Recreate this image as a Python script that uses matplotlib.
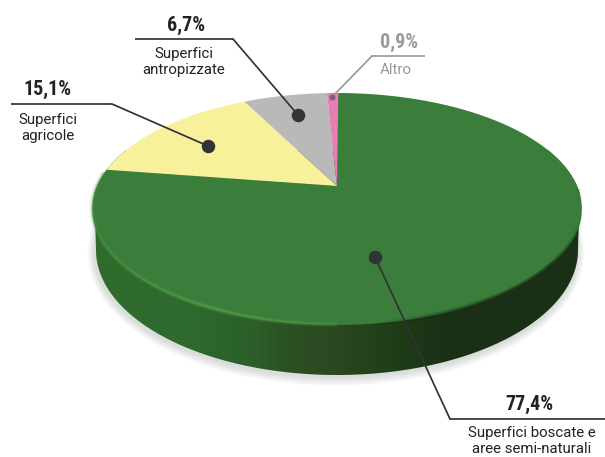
import numpy as np
import matplotlib
matplotlib.use('Agg')
import matplotlib.pyplot as plt
from matplotlib.colors import LinearSegmentedColormap, to_rgb
from matplotlib.collections import LineCollection
from matplotlib.patches import Polygon

# Slices, clockwise from 12 o'clock
categories = ['Superfici boscate e\naree semi-naturali', 'Superfici\nagricole', 'Superfici\nantropizzate', 'Altro']
values = [77.4, 15.1, 6.7, 0.9]
value_labels = ['77,4%', '15,1%', '6,7%', '0,9%']
colors = ['#3b7d3b', '#f7f19c', '#b9b9b9', '#e77fb4']

# Pie geometry in pixels, the disc is seen in perspective
cx, cy = 337.0, 186.0
R, S, k = 240.0, 111.4, 0.198

# Side wall of the disc
wall_x = [0.0, 0.20, 0.33, 0.40, 0.50, 0.62, 0.72, 1.0]
wall_colors = ['#2e6c2e', '#2e6a2d', '#2b5e2a', '#2c5024', '#2b4820', '#1f3d18', '#1a3016', '#1a3016']

W, H = 605, 457
fig = plt.figure(figsize=(W / 100, H / 100), dpi=100)
ax = fig.add_axes([0, 0, 1, 1])
ax.set_xlim(0, W)
ax.set_ylim(H, 0)
ax.axis('off')


# Point of the disc for an angle in percent, clockwise from the top
def disc(p, dy=0.0):
    t = np.asarray(p) * 2 * np.pi / 100
    u, v = np.sin(t), np.cos(t)
    d = 1 + k * v
    return cx + R * u / d, cy - S * v / d + dy


# Stroke along the disc edge whose opacity follows x
def edge_stroke(p0, p1, dy, col, width, alpha_fn):
    ex, ey = disc(np.linspace(p0, p1, 300), dy)
    pts = np.c_[ex, ey]
    segs = np.stack([pts[:-1], pts[1:]], axis=1)
    mid = (ex[:-1] + ex[1:]) / 2
    cols = np.zeros((len(mid), 4))
    cols[:, :3] = to_rgb(col)
    cols[:, 3] = np.clip(alpha_fn(mid), 0, 1)
    ax.add_collection(LineCollection(segs, colors=cols, linewidths=width, zorder=4, capstyle='butt'))


# Soft shadow under the disc
tt = np.linspace(0, 2 * np.pi, 300)
for g in range(8):
    sx = 336 + (242 + g * 0.9) * np.cos(tt)
    sy = 253 + (125 + g * 1.1) * np.sin(tt)
    ax.fill(sx, sy, color='#a8b0aa', alpha=0.06, lw=0, zorder=1)

# Wall: front half of the lower ellipse joined to the back half of the top one
front = np.linspace(0, np.pi, 200)
low_x = 337 + 241 * np.cos(front)
low_y = 250 + 125 * np.sin(front)
top_x, top_y = disc(np.linspace(74, 126, 200))
wall_poly = Polygon(np.r_[np.c_[low_x, low_y], np.c_[top_x, top_y]], closed=True, fc='none', ec='none', zorder=2)
ax.add_patch(wall_poly)
cmap = LinearSegmentedColormap.from_list('wall', list(zip(wall_x, wall_colors)))
grad = np.linspace(0, 1, 400)[None, :]
im = ax.imshow(grad, extent=[92, 582, 380, 150], cmap=cmap, aspect='auto', zorder=2)
im.set_clip_path(wall_poly)
ax.set_xlim(0, W)
ax.set_ylim(H, 0)

# Slices
start = 0.0
for val, col in zip(values, colors):
    px, py = disc(np.linspace(start, start + val, 200))
    ax.fill(np.r_[cx, px], np.r_[cy, py], color=col, lw=0, zorder=3)
    start += val

# Bevel: light rim on the left of the front edge, dark on the right
light = lambda x: 0.9 - np.abs(x - 215) / 230
dark_edge = lambda x: np.minimum((x - 380) / 160, (582 - x) / 30)
for width, scale in [(4.0, 0.25), (2.6, 0.4), (1.3, 0.75)]:
    edge_stroke(50, 76.9, -0.5, '#52a048', width, lambda x, s=scale: s * np.maximum(light(x), 0.35 * (x < 300)))
    edge_stroke(25.5, 50, -0.5, '#1a3016', width, lambda x, s=scale: s * dark_edge(x))

# Leader lines and dots
dark = '#333333'
grey = '#9a9a9a'
lines = [([450, 605], [419, 419]), ([11, 112], [104, 104]), ([135, 233], [39, 39]), ([372, 425], [56, 56])]
leaders = [(375, 257, 450, 419), (208, 146, 112, 104), (298, 115, 233, 39), (332, 97, 372, 56)]
sizes = [13.5, 13.5, 13.5, 6]
for i in range(4):
    lc = grey if i == 3 else dark
    x0, y0, x1, y1 = leaders[i]
    ax.plot(lines[i][0], lines[i][1], color=lc, lw=1.25, zorder=5, solid_capstyle='butt')
    ax.plot([x0, x1], [y0, y1], color=lc, lw=1.25, zorder=5)
    ax.plot([x0], [y0], 'o', ms=sizes[i] * 0.72, mew=0, color='#8b5a7c' if i == 3 else dark, zorder=6)

# Texts
pct_font = ['Roboto Condensed', 'DejaVu Sans']
lab_font = ['Roboto', 'DejaVu Sans']
val_pos = [(529, 404), (48, 89), (186, 25), (399, 42)]
lab_pos = [(532, 441), (48, 128), (184, 62), (396, 70)]
for i in range(4):
    tc = grey if i == 3 else '#222222'
    ax.text(val_pos[i][0], val_pos[i][1], value_labels[i], family=pct_font, weight='bold', fontsize=14.5,
            color=tc, ha='center', va='center', zorder=7)
    ax.text(lab_pos[i][0], lab_pos[i][1], categories[i], family=lab_font, fontsize=10.8,
            color=tc, ha='center', va='center', linespacing=1.25, zorder=7)

plt.savefig('out.png', dpi=100)
